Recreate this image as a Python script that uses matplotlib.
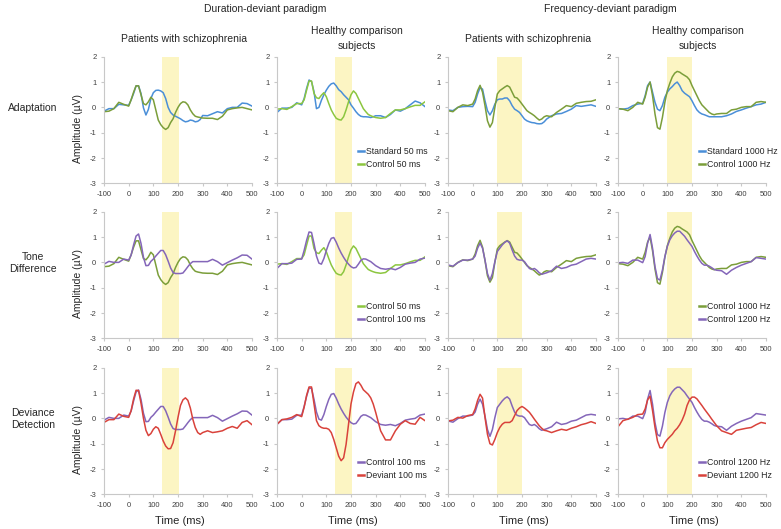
import matplotlib
matplotlib.use("Agg")
import matplotlib.pyplot as plt

plt.rcParams['font.family'] = ['Liberation Sans', 'DejaVu Sans']
plt.rcParams['axes.unicode_minus'] = False

# time axis (ms), shared by every waveform
time_ms = [-100, -80, -60, -40, -20, 0, 10, 20, 30, 40, 50, 60, 70, 80, 90, 100,
           110, 120, 130, 140, 150, 160, 170, 180, 190, 200, 210, 220, 230, 240,
           250, 260, 270, 280, 290, 300, 320, 340, 360, 380, 400, 420, 440, 460,
           480, 500]

# duration-deviant paradigm, patients
pat_std50 = [-0.15, -0.05, -0.05, 0.12, 0.10, 0.08, 0.30, 0.55, 0.85, 0.85,
             0.55, -0.02, -0.30, -0.08, 0.35, 0.58, 0.67, 0.68, 0.65, 0.58,
             0.35, 0.00, -0.20, -0.30, -0.35, -0.40, -0.45, -0.52, -0.57, -0.55,
             -0.50, -0.52, -0.57, -0.55, -0.48, -0.32, -0.33, -0.25, -0.17, -0.22,
             -0.05, 0.00, 0.00, 0.17, 0.15, 0.05]
pat_ctrl50 = [-0.17, -0.15, -0.05, 0.20, 0.12, 0.05, 0.30, 0.60, 0.85, 0.85,
              0.50, 0.15, 0.10, 0.22, 0.40, 0.30, -0.10, -0.50, -0.68, -0.80,
              -0.87, -0.80, -0.60, -0.45, -0.20, 0.00, 0.15, 0.22, 0.20, 0.10,
              -0.10, -0.25, -0.35, -0.38, -0.40, -0.42, -0.43, -0.43, -0.48, -0.35,
              -0.10, -0.05, -0.02, 0.00, -0.05, -0.10]
pat_ctrl100 = [-0.07, 0.04, 0.00, 0.00, 0.13, 0.09, 0.29, 0.69, 1.04, 1.12,
               0.75, 0.20, -0.13, -0.12, 0.04, 0.13, 0.25, 0.36, 0.47, 0.47,
               0.30, 0.05, -0.22, -0.40, -0.44, -0.44, -0.44, -0.42, -0.30, -0.17,
               -0.05, 0.03, 0.03, 0.03, 0.03, 0.03, 0.03, 0.12, 0.03, -0.11,
               -0.01, 0.09, 0.18, 0.29, 0.28, 0.13]
pat_dev100 = [-0.16, -0.05, -0.05, 0.17, 0.08, 0.04, 0.31, 0.77, 1.11, 1.10,
              0.60, 0.00, -0.47, -0.68, -0.60, -0.43, -0.33, -0.39, -0.63, -0.89,
              -1.09, -1.20, -1.19, -0.96, -0.49, 0.04, 0.51, 0.73, 0.81, 0.71,
              0.41, -0.03, -0.36, -0.56, -0.63, -0.56, -0.49, -0.56, -0.53, -0.49,
              -0.39, -0.32, -0.39, -0.16, -0.09, -0.25]

# duration-deviant paradigm, healthy comparison subjects
hc_std50 = [-0.20, -0.03, -0.03, 0.00, 0.18, 0.10, 0.35, 0.75, 1.08, 1.02,
            0.62, -0.05, 0.00, 0.28, 0.50, 0.68, 0.83, 0.93, 0.96, 0.85,
            0.70, 0.62, 0.50, 0.40, 0.30, 0.10, -0.03, -0.17, -0.28, -0.35,
            -0.37, -0.37, -0.38, -0.40, -0.37, -0.33, -0.33, -0.40, -0.28, -0.10,
            -0.15, -0.05, 0.10, 0.25, 0.18, 0.03]
hc_ctrl50 = [-0.07, -0.05, -0.08, 0.03, 0.15, 0.15, 0.30, 0.68, 1.04, 1.04,
             0.55, 0.38, 0.35, 0.48, 0.58, 0.42, 0.15, -0.10, -0.28, -0.43,
             -0.48, -0.50, -0.37, -0.10, 0.22, 0.50, 0.65, 0.55, 0.35, 0.15,
             -0.05, -0.17, -0.28, -0.33, -0.37, -0.40, -0.43, -0.40, -0.24, -0.10,
             -0.10, -0.05, 0.02, 0.08, 0.08, 0.22]
hc_ctrl100 = [-0.24, -0.05, -0.05, -0.03, 0.12, 0.13, 0.47, 0.87, 1.20, 1.18,
              0.75, 0.25, -0.03, -0.07, 0.15, 0.47, 0.75, 0.95, 0.98, 0.80,
              0.57, 0.37, 0.20, 0.05, -0.07, -0.17, -0.22, -0.20, -0.07, 0.08,
              0.14, 0.13, 0.08, 0.03, -0.05, -0.13, -0.24, -0.27, -0.24, -0.29,
              -0.20, -0.07, -0.03, 0.00, 0.13, 0.17]
hc_dev100 = [-0.23, -0.05, -0.02, 0.04, 0.15, 0.07, 0.44, 0.91, 1.24, 1.24,
             0.57, -0.09, -0.29, -0.36, -0.39, -0.39, -0.43, -0.56, -0.83, -1.16,
             -1.49, -1.67, -1.56, -1.03, -0.23, 0.57, 1.04, 1.37, 1.44, 1.31,
             1.13, 1.04, 0.95, 0.81, 0.57, 0.24, -0.49, -0.85, -0.85, -0.49,
             -0.23, -0.09, -0.20, -0.23, 0.04, -0.09]

# frequency-deviant paradigm, patients
pat_std1000 = [-0.10, -0.13, 0.00, 0.03, 0.04, 0.03, 0.20, 0.53, 0.78, 0.72,
               0.26, -0.13, -0.30, -0.13, 0.13, 0.30, 0.33, 0.33, 0.37, 0.37,
               0.26, 0.07, -0.07, -0.13, -0.20, -0.33, -0.46, -0.53, -0.57, -0.60,
               -0.61, -0.64, -0.65, -0.64, -0.57, -0.46, -0.33, -0.26, -0.24, -0.16,
               -0.07, 0.07, 0.04, 0.07, 0.10, 0.04]
pat_ctrl1000 = [-0.13, -0.17, 0.00, 0.10, 0.07, 0.13, 0.33, 0.66, 0.87, 0.60,
                0.07, -0.53, -0.78, -0.60, 0.00, 0.53, 0.66, 0.73, 0.80, 0.86,
                0.80, 0.60, 0.40, 0.37, 0.26, 0.13, 0.00, -0.13, -0.20, -0.26,
                -0.33, -0.42, -0.50, -0.46, -0.37, -0.33, -0.37, -0.20, -0.07, 0.07,
                0.03, 0.16, 0.20, 0.23, 0.24, 0.30]
pat_ctrl1200 = [-0.10, -0.15, -0.01, 0.09, 0.09, 0.13, 0.25, 0.56, 0.76, 0.56,
                0.09, -0.44, -0.71, -0.44, 0.03, 0.43, 0.56, 0.69, 0.79, 0.85,
                0.76, 0.49, 0.25, 0.12, 0.09, 0.09, 0.03, -0.11, -0.24, -0.28,
                -0.24, -0.31, -0.41, -0.47, -0.44, -0.41, -0.33, -0.15, -0.24, -0.20,
                -0.11, -0.07, 0.03, 0.13, 0.16, 0.13]
pat_dev1200 = [-0.10, -0.07, 0.04, 0.01, 0.11, 0.15, 0.37, 0.71, 0.95, 0.80,
               0.04, -0.63, -1.00, -1.05, -0.83, -0.56, -0.36, -0.23, -0.16, -0.16,
               -0.16, -0.09, 0.11, 0.31, 0.41, 0.47, 0.41, 0.33, 0.24, 0.11,
               -0.03, -0.16, -0.29, -0.39, -0.47, -0.49, -0.56, -0.49, -0.43, -0.47,
               -0.39, -0.33, -0.25, -0.20, -0.13, -0.20]

# frequency-deviant paradigm, healthy comparison subjects
hc_std1000 = [-0.05, -0.07, -0.04, 0.07, 0.13, 0.16, 0.46, 0.86, 1.00, 0.60,
              0.20, -0.07, -0.13, 0.07, 0.40, 0.60, 0.73, 0.82, 0.93, 1.00,
              0.86, 0.66, 0.56, 0.49, 0.42, 0.26, 0.07, -0.10, -0.20, -0.26,
              -0.29, -0.33, -0.37, -0.37, -0.37, -0.37, -0.37, -0.33, -0.26, -0.16,
              -0.10, -0.03, 0.03, 0.10, 0.13, 0.20]
hc_ctrl1000 = [-0.05, -0.07, -0.13, 0.00, 0.20, 0.13, 0.40, 0.80, 1.00, 0.46,
               -0.26, -0.80, -0.86, -0.40, 0.20, 0.66, 0.95, 1.20, 1.35, 1.42,
               1.39, 1.32, 1.26, 1.20, 1.09, 0.86, 0.66, 0.46, 0.26, 0.10,
               0.00, -0.10, -0.20, -0.26, -0.29, -0.26, -0.24, -0.24, -0.10, -0.07,
               0.00, 0.03, 0.03, 0.20, 0.23, 0.20]
hc_ctrl1200 = [-0.02, 0.00, -0.04, 0.09, 0.09, -0.01, 0.23, 0.76, 1.10, 0.56,
               -0.17, -0.64, -0.70, -0.31, 0.23, 0.63, 0.89, 1.05, 1.16, 1.23,
               1.23, 1.13, 1.03, 0.89, 0.76, 0.63, 0.43, 0.25, 0.09, -0.04,
               -0.11, -0.11, -0.15, -0.21, -0.28, -0.31, -0.33, -0.47, -0.31, -0.20,
               -0.11, -0.04, 0.03, 0.19, 0.16, 0.13]
hc_dev1200 = [-0.33, -0.09, -0.03, 0.04, 0.15, 0.17, 0.37, 0.73, 0.88, 0.31,
              -0.36, -0.89, -1.16, -1.16, -0.96, -0.83, -0.73, -0.63, -0.49, -0.39,
              -0.25, -0.07, 0.17, 0.51, 0.73, 0.84, 0.84, 0.77, 0.64, 0.51,
              0.37, 0.24, 0.11, -0.03, -0.16, -0.29, -0.49, -0.56, -0.63, -0.47,
              -0.43, -0.39, -0.36, -0.25, -0.16, -0.20]

duration_window = (135, 205)
frequency_window = (100, 200)

row_names = ["Adaptation", "Tone\nDifference", "Deviance\nDetection"]
col_titles = ["Patients with schizophrenia", "Healthy comparison\nsubjects",
              "Patients with schizophrenia", "Healthy comparison\nsubjects"]

blue = "#4a8fd8"
green = "#7b9e3a"
green_lt = "#8cc63f"
purple = "#8466b9"
red = "#d9423b"

# (series, colour, label) for each panel, row by row
panels = [
    [[(pat_std50, blue, "Standard 50 ms"), (pat_ctrl50, green, "Control 50 ms")],
     [(hc_std50, blue, "Standard 50 ms"), (hc_ctrl50, green_lt, "Control 50 ms")],
     [(pat_std1000, blue, "Standard 1000 Hz"), (pat_ctrl1000, green, "Control 1000 Hz")],
     [(hc_std1000, blue, "Standard 1000 Hz"), (hc_ctrl1000, green, "Control 1000 Hz")]],
    [[(pat_ctrl50, green, "Control 50 ms"), (pat_ctrl100, purple, "Control 100 ms")],
     [(hc_ctrl50, green_lt, "Control 50 ms"), (hc_ctrl100, purple, "Control 100 ms")],
     [(pat_ctrl1000, green, "Control 1000 Hz"), (pat_ctrl1200, purple, "Control 1200 Hz")],
     [(hc_ctrl1000, green, "Control 1000 Hz"), (hc_ctrl1200, purple, "Control 1200 Hz")]],
    [[(pat_ctrl100, purple, "Control 100 ms"), (pat_dev100, red, "Deviant 100 ms")],
     [(hc_ctrl100, purple, "Control 100 ms"), (hc_dev100, red, "Deviant 100 ms")],
     [(pat_ctrl1200, purple, "Control 1200 Hz"), (pat_dev1200, red, "Deviant 1200 Hz")],
     [(hc_ctrl1200, purple, "Control 1200 Hz"), (hc_dev1200, red, "Deviant 1200 Hz")]],
]

W, H = 781, 529
col_left = [104, 277, 448, 618]
row_top = [56.7, 211.7, 367.7]
ax_w, ax_h = 148, 126.7
grey = "#c8c8c8"
txt = "#262626"

fig = plt.figure(figsize=(W / 100, H / 100), dpi=100)
fig.patch.set_facecolor("white")


def fx(px):
    return px / W


def fy(py):
    return 1 - py / H


for r in range(3):
    for c in range(4):
        ax = fig.add_axes([fx(col_left[c]), fy(row_top[r] + ax_h), ax_w / W, ax_h / H])
        win = duration_window if c < 2 else frequency_window
        ax.axvspan(win[0], win[1], color="#fcf5c3", lw=0, zorder=0)
        for data, color, label in panels[r][c]:
            ax.plot(time_ms, data, color=color, lw=1.1, label=label, zorder=2)
        ax.set_xlim(-100, 500)
        ax.set_ylim(-3, 2)
        ax.set_xticks(range(-100, 501, 100))
        ax.set_yticks(range(-3, 3))
        for s in ["top", "right"]:
            ax.spines[s].set_visible(False)
        for s in ["left", "bottom"]:
            ax.spines[s].set_color(grey)
            ax.spines[s].set_linewidth(0.8)
        ax.tick_params(labelsize=5.5, labelcolor="#404040", color=grey,
                       length=2.5, width=0.8, pad=3)
        if c % 2 == 1:
            leg = ax.legend(loc="center left", bbox_to_anchor=(0.545, 0.2),
                            frameon=False, fontsize=6.3, handlelength=0.7,
                            handletextpad=0.25, labelspacing=0.4,
                            borderpad=0, borderaxespad=0)
            for t in leg.get_texts():
                t.set_color(txt)
            for ln in leg.get_lines():
                ln.set_linewidth(1.8)

        cx = col_left[c] + ax_w / 2
        if c == 0:
            fig.text(fx(78), fy(row_top[r] + ax_h / 2 + 8), "Amplitude (µV)",
                     rotation=90, ha="center", va="center", fontsize=7.5, color=txt)
        if r == 2:
            fig.text(fx(cx + 2), fy(521), "Time (ms)", ha="center", va="center",
                     fontsize=8, color=txt)
    fig.text(fx(33), fy(row_top[r] + ax_h / 2 - 12), row_names[r],
             ha="center", va="center", fontsize=7.5, color=txt, linespacing=1.3)

for c in range(4):
    cx = col_left[c] + ax_w / 2 + 6
    cy = 39 if c % 2 == 0 else 38.5
    fig.text(fx(cx), fy(cy), col_titles[c], ha="center", va="center",
             fontsize=7.5, color=txt, linespacing=1.55)

fig.text(fx(265), fy(9), "Duration-deviant paradigm", ha="center", va="center",
         fontsize=7.5, color=txt)
fig.text(fx(610), fy(9), "Frequency-deviant paradigm", ha="center", va="center",
         fontsize=7.5, color=txt)

fig.savefig("out.png", dpi=100, facecolor="white")
